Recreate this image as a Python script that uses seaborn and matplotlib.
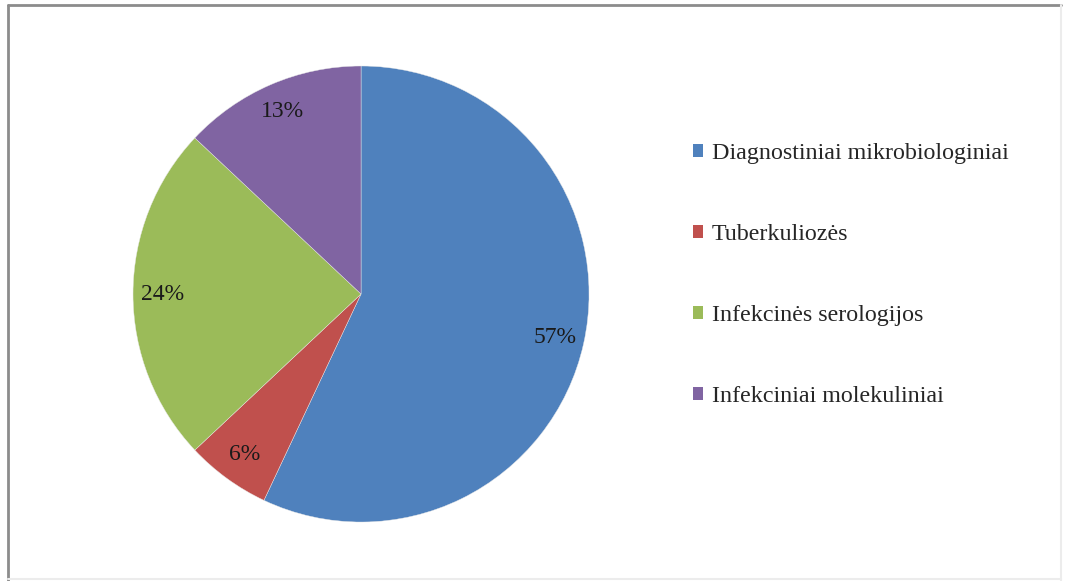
import matplotlib
matplotlib.use("Agg")
import matplotlib.pyplot as plt
from matplotlib.patches import Patch
from matplotlib.lines import Line2D
import seaborn as sns

categories = ["Diagnostiniai mikrobiologiniai", "Tuberkuliozės",
              "Infekcinės serologijos", "Infekciniai molekuliniai"]
values = [57, 6, 24, 13]
colors = ["#4F81BD", "#C0504D", "#9BBB59", "#8064A2"]

sns.set_theme(style="white")
plt.rcParams["font.family"] = ["Liberation Serif", "DejaVu Serif"]

fig = plt.figure(figsize=(10.65, 5.81), dpi=100)
ax = fig.add_axes([0.1249, 0.1015, 0.4282, 0.7849])
wedges, texts, autotexts = ax.pie(
    values, colors=colors, startangle=90, counterclock=False,
    autopct=lambda p: f"{p:.0f}%", pctdistance=0.87,
    wedgeprops=dict(linewidth=0.3, edgecolor="#e8e8e8"),
    textprops=dict(fontsize=17, color="#1a1a1a"))
ax.set_xlim(-1, 1)
ax.set_ylim(-1, 1)
ax.set_aspect("equal")
ax.axis("off")

handles = [Patch(facecolor=c, edgecolor="none") for c in colors]
fig.legend(handles, categories, loc="center left",
           bbox_to_anchor=(0.630, 0.527), frameon=False,
           fontsize=17.3, handlelength=0.45, handleheight=0.45,
           handletextpad=0.35, labelspacing=2.5)

# chart frame
fig.add_artist(Line2D([0.0075, 0.0075], [0.0, 0.9915], transform=fig.transFigure,
                      color="#8c8c8c", linewidth=2))
fig.add_artist(Line2D([0.0075, 0.996], [0.9915, 0.9915], transform=fig.transFigure,
                      color="#8c8c8c", linewidth=2))
fig.add_artist(Line2D([0.996, 0.996], [0.0, 0.9915], transform=fig.transFigure,
                      color="#ececec", linewidth=1.5))
fig.add_artist(Line2D([0.0075, 0.996], [0.004, 0.004], transform=fig.transFigure,
                      color="#ececec", linewidth=1.5))

fig.savefig("out.png", dpi=100)
